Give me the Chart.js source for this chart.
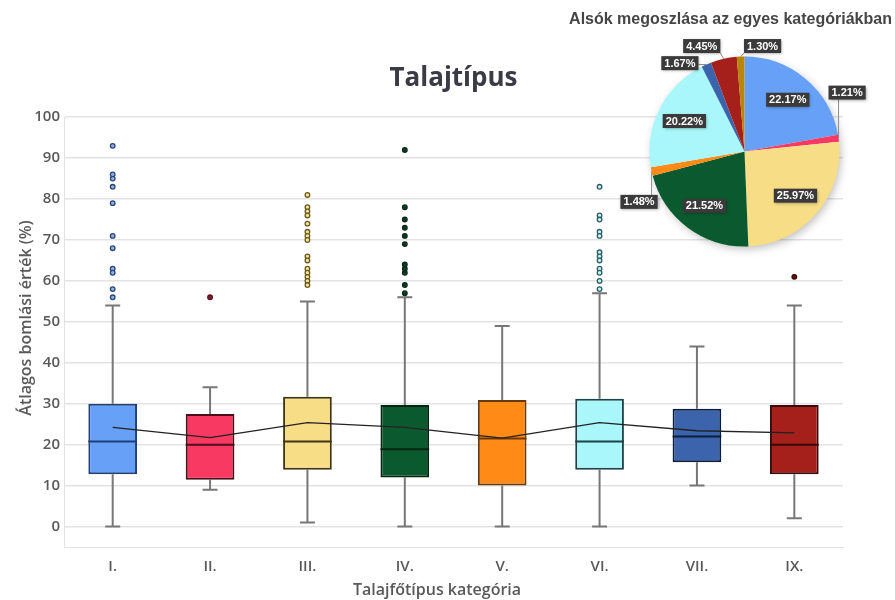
<!DOCTYPE html>
<html lang="hu">
<head>
  <meta charset="UTF-8">
  <title>Talajtípus</title>
  <script src="https://cdn.jsdelivr.net/npm/chart.js"></script>
  <style>
    body { margin: 0; background: #fff; }
    #wrap { position: relative; width: 895px; height: 600px; overflow: hidden; }
    #boxChart { position: absolute; left: 0; top: 0; }
    #pieChart { position: absolute; left: 563px; top: 0; pointer-events: none; }
  </style>
</head>
<body>
  <div id="wrap">
    <canvas id="boxChart" width="895" height="600"></canvas>
    <canvas id="pieChart" width="332" height="260"></canvas>
  </div>

  <script>
    // Adatok (leolvasva)
    const categories = ['I.', 'II.', 'III.', 'IV.', 'V.', 'VI.', 'VII.', 'IX.'];
    const q1 = [12.8, 11.4, 13.9, 12.0, 10.0, 13.9, 15.7, 12.8];
    const q3 = [30.0, 27.5, 31.7, 29.7, 30.9, 31.2, 28.8, 29.7];
    const medians = [20.8, 20.0, 20.8, 18.9, 21.5, 20.8, 22.0, 20.0];
    const means = [24.2, 21.7, 25.4, 24.2, 21.6, 25.4, 23.4, 22.9];
    const whiskerLow = [0, 9, 1, 0, 0, 0, 10, 2];
    const whiskerHigh = [54, 34, 55, 56, 49, 57, 44, 54];
    const outliers = [
      [93, 86, 85, 83, 79, 71, 68, 63, 62, 58, 56],
      [56],
      [81, 78, 77, 76, 74, 72, 71, 70, 66, 65, 63, 62, 61, 60, 59],
      [92, 78, 75, 73, 71, 69, 64, 63, 62, 59, 57],
      [],
      [83, 76, 75, 72, 71, 67, 66, 65, 63, 62, 60, 58],
      [],
      [61]
    ];
    const yTicks = [0, 10, 20, 30, 40, 50, 60, 70, 80, 90, 100];

    const pieLabels = ['I.', 'II.', 'III.', 'IV.', 'V.', 'VI.', 'VII.', 'IX.', 'X.'];
    const pieShares = [22.17, 1.21, 25.97, 21.52, 1.48, 20.22, 1.67, 4.45, 1.30];

    // Színek
    const boxFill = ['#67a0f7', '#f83a62', '#f6dd86', '#0b5a2f', '#ff8a15', '#a9f7fb', '#3b64ad', '#a51f1b'];
    const boxLine = ['#1f3f78', '#4a0d1a', '#3f3416', '#04240f', '#6b3a0a', '#1d4347', '#0c1d3d', '#3a0909'];
    const outFill = ['#8fb0e8', '#8b1a2b', '#f3e3a0', '#0d3b22', '#ff8a15', '#c6f3f6', '#3b64ad', '#6a1010'];
    const outLine = ['#2b4677', '#5a0f1e', '#6b5a1a', '#0a2a18', '#6b3a0a', '#2e5e63', '#0c1d3d', '#3a0909'];
    const pieColors = ['#67a0f7', '#f83a62', '#f6dd86', '#0b5a2f', '#ff8a15', '#a9f7fb', '#3b64ad', '#a51f1b', '#b8860b'];

    const textGrey = '#595959';

    // Bajuszok és mediánok
    const boxExtras = {
      id: 'boxExtras',
      beforeDatasetsDraw(chart) {
        const ctx = chart.ctx;
        const xs = chart.scales.x, ys = chart.scales.y;
        ctx.save();
        ctx.strokeStyle = '#777';
        ctx.lineWidth = 2;
        categories.forEach((c, i) => {
          const x = xs.getPixelForValue(i);
          const pairs = [[q3[i], whiskerHigh[i]], [q1[i], whiskerLow[i]]];
          pairs.forEach(([from, to]) => {
            const y0 = ys.getPixelForValue(from), y1 = ys.getPixelForValue(to);
            ctx.beginPath();
            ctx.moveTo(x, y0); ctx.lineTo(x, y1);
            ctx.moveTo(x - 7.5, y1); ctx.lineTo(x + 7.5, y1);
            ctx.stroke();
          });
        });
        ctx.restore();
      },
      afterDatasetDraw(chart, args) {
        if (args.index !== 0) return;
        const ctx = chart.ctx;
        const ys = chart.scales.y;
        const meta = chart.getDatasetMeta(0);
        ctx.save();
        ctx.lineWidth = 2;
        meta.data.forEach((bar, i) => {
          const y = ys.getPixelForValue(medians[i]);
          ctx.strokeStyle = boxLine[i];
          ctx.beginPath();
          ctx.moveTo(bar.x - bar.width / 2, y);
          ctx.lineTo(bar.x + bar.width / 2, y);
          ctx.stroke();
        });
        ctx.restore();
      }
    };

    // Tengelyfeliratok
    const axisTitles = {
      id: 'axisTitles',
      afterDraw(chart) {
        const ctx = chart.ctx;
        ctx.save();
        ctx.fillStyle = textGrey;
        ctx.font = '600 16px "Open Sans"';
        ctx.textAlign = 'center';
        ctx.textBaseline = 'middle';
        ctx.fillText('Talajfőtípus kategória', 437, 590);
        ctx.translate(26, 318);
        ctx.rotate(-Math.PI / 2);
        ctx.fillText('Átlagos bomlási érték (%)', 0, 0);
        ctx.restore();
      }
    };

    const outlierSets = outliers.map((vals, i) => ({
      type: 'line',
      data: vals.map(v => ({ x: categories[i], y: v })),
      showLine: false,
      pointRadius: 2.3,
      pointBorderWidth: 1.3,
      pointBackgroundColor: outFill[i],
      pointBorderColor: outLine[i],
      order: 2
    }));

    new Chart(document.getElementById('boxChart'), {
      type: 'bar',
      data: {
        labels: categories,
        datasets: [
          {
            data: q1.map((v, i) => [v, q3[i]]),
            backgroundColor: boxFill,
            borderColor: boxLine,
            borderWidth: 2,
            borderSkipped: false,
            barPercentage: 0.5,
            categoryPercentage: 1,
            order: 3
          },
          {
            type: 'line',
            data: means,
            borderColor: '#222',
            borderWidth: 1.3,
            pointRadius: 0,
            tension: 0,
            order: 1
          },
          ...outlierSets
        ]
      },
      options: {
        responsive: false,
        animation: false,
        layout: { padding: { right: 52 } },
        plugins: {
          legend: { display: false },
          tooltip: { enabled: false },
          title: {
            display: true,
            text: 'Talajtípus',
            fullSize: false,
            color: '#3b3b45',
            font: { family: 'Open Sans', size: 26, weight: 'bold' },
            padding: { top: 63, bottom: 23 }
          }
        },
        scales: {
          x: {
            grid: { display: false },
            border: { color: '#e2e2e2', width: 1 },
            ticks: {
              color: textGrey,
              padding: 3,
              font: { family: 'Open Sans', size: 15, weight: '600' }
            },
            afterFit(scale) { scale.height = 53; }
          },
          y: {
            min: -5,
            max: 100,
            z: 1,
            afterBuildTicks(scale) { scale.ticks = yTicks.map(v => ({ value: v })); },
            grid: { color: 'rgba(222,222,222,0.85)', lineWidth: 1.5, drawTicks: false },
            border: { color: '#e2e2e2', width: 1 },
            ticks: {
              color: textGrey,
              padding: 4,
              font: { family: 'Open Sans', size: 15, weight: '600' }
            },
            afterFit(scale) { scale.width = 64; }
          }
        }
      },
      plugins: [boxExtras, axisTitles]
    });

    // Kördiagram: feliratok helye (sugár egységben) a kis szeleteknél
    const calloutPos = { 1: [1.08, -0.62], 4: [-1.11, 0.53], 6: [-0.68, -0.93], 7: [-0.45, -1.11], 8: [0.19, -1.11] };

    const pieShadow = {
      id: 'pieShadow',
      beforeDatasetsDraw(chart) {
        const arc = chart.getDatasetMeta(0).data[0];
        if (!arc) return;
        const ctx = chart.ctx;
        ctx.save();
        ctx.shadowColor = 'rgba(0,0,0,0.28)';
        ctx.shadowBlur = 10;
        ctx.shadowOffsetX = 2;
        ctx.shadowOffsetY = 3;
        ctx.fillStyle = '#fff';
        ctx.beginPath();
        ctx.arc(arc.x, arc.y, arc.outerRadius - 1, 0, Math.PI * 2);
        ctx.fill();
        ctx.restore();
      }
    };

    // a kördiagram címe szélesebb a körnél, ezért külön rajzoljuk
    const pieTitle = {
      id: 'pieTitle',
      afterDraw(chart) {
        const ctx = chart.ctx;
        ctx.save();
        ctx.fillStyle = '#454545';
        ctx.font = 'bold 16px "Liberation Sans", Arial';
        ctx.textAlign = 'center';
        ctx.textBaseline = 'middle';
        ctx.fillText('Alsók megoszlása az egyes kategóriákban', 167.5, 20);
        ctx.restore();
      }
    };

    const pieValueLabels = {
      id: 'pieValueLabels',
      afterDatasetsDraw(chart) {
        const ctx = chart.ctx;
        const meta = chart.getDatasetMeta(0);
        ctx.save();
        ctx.font = 'bold 11px "Liberation Sans", Arial';
        ctx.textAlign = 'center';
        ctx.textBaseline = 'middle';
        meta.data.forEach((arc, i) => {
          const a = (arc.startAngle + arc.endAngle) / 2;
          const r = arc.outerRadius;
          const text = pieShares[i].toFixed(2) + '%';
          const w = ctx.measureText(text).width + 6, h = 14;
          let lx, ly;
          if (calloutPos[i]) {
            lx = arc.x + calloutPos[i][0] * r;
            ly = arc.y + calloutPos[i][1] * r;
            const ex = arc.x + Math.cos(a) * r, ey = arc.y + Math.sin(a) * r;
            const nx = Math.min(Math.max(ex, lx - w / 2), lx + w / 2);
            const ny = Math.min(Math.max(ey, ly - h / 2), ly + h / 2);
            ctx.strokeStyle = '#8a8a8a';
            ctx.lineWidth = 1;
            ctx.beginPath();
            ctx.moveTo(ex, ey); ctx.lineTo(nx, ny);
            ctx.stroke();
          } else {
            lx = arc.x + Math.cos(a) * r * 0.71;
            ly = arc.y + Math.sin(a) * r * 0.71;
          }
          ctx.shadowColor = 'rgba(0,0,0,0.35)';
          ctx.shadowBlur = 3;
          ctx.shadowOffsetX = 1;
          ctx.shadowOffsetY = 1;
          ctx.fillStyle = '#3a3a3a';
          ctx.fillRect(lx - w / 2, ly - h / 2, w, h);
          ctx.shadowColor = 'transparent';
          ctx.fillStyle = '#fff';
          ctx.fillText(text, lx, ly + 0.5);
        });
        ctx.restore();
      }
    };

    new Chart(document.getElementById('pieChart'), {
      type: 'pie',
      data: {
        labels: pieLabels,
        datasets: [{
          data: pieShares,
          backgroundColor: pieColors,
          borderWidth: 0
        }]
      },
      options: {
        responsive: false,
        animation: false,
        layout: { padding: { left: 86.5, right: 55.5, top: 56.5, bottom: 13.5 } },
        plugins: {
          legend: { display: false },
          tooltip: { enabled: false }
        }
      },
      plugins: [pieShadow, pieValueLabels, pieTitle]
    });
  </script>
</body>
</html>
